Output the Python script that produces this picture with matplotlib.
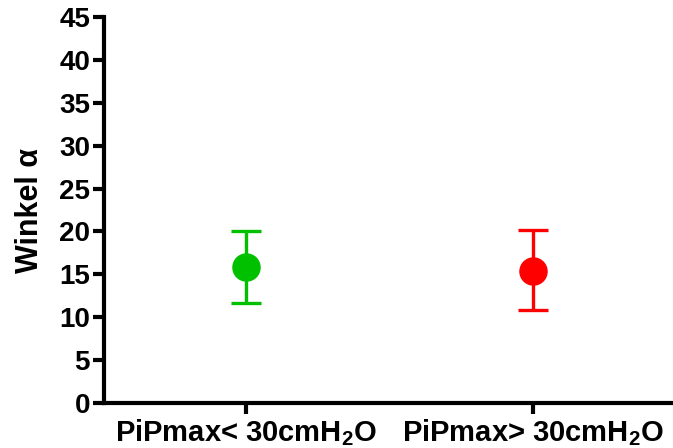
import matplotlib
matplotlib.use("Agg")
import matplotlib.pyplot as plt

plt.rcParams['font.family'] = ['Liberation Sans', 'DejaVu Sans']
plt.rcParams['font.weight'] = 'bold'
plt.rcParams['mathtext.fontset'] = 'custom'
plt.rcParams['mathtext.rm'] = 'Liberation Sans:bold'
plt.rcParams['mathtext.bf'] = 'Liberation Sans:bold'
plt.rcParams['mathtext.it'] = 'Liberation Sans:bold'
plt.rcParams['mathtext.default'] = 'bf'

categories = [r"PiPmax< 30cmH$_2$O", r"PiPmax> 30cmH$_2$O"]
means = [15.9, 15.4]
lower = [11.7, 10.8]
upper = [20.0, 20.2]
colors = ["#00c000", "#ff0000"]
yticks = [0, 5, 10, 15, 20, 25, 30, 35, 40, 45]

fig = plt.figure(figsize=(6.73, 4.48), dpi=100)
ax = fig.add_axes([0.1545, 0.1004, 0.851, 0.8616])

for i, (m, lo, hi, c) in enumerate(zip(means, lower, upper, colors)):
    ax.errorbar([i], [m], yerr=[[m - lo], [hi - m]], fmt='o', color=c,
                ecolor=c, mec=c, mfc=c, elinewidth=2.4, capsize=10.8,
                capthick=2.4, markersize=19.5, clip_on=False, zorder=3)

ax.set_xlim(-0.495, 1.5)
ax.set_ylim(0, 45)
ax.set_xticks(range(len(categories)))
ax.set_xticklabels(categories, fontsize=21)
ax.set_yticks(yticks)
ax.set_ylabel("Winkel α", fontsize=22, fontweight='bold', labelpad=10)

for s in ['top', 'right']:
    ax.spines[s].set_visible(False)
for s in ['left', 'bottom']:
    ax.spines[s].set_linewidth(3)
ax.tick_params(axis='both', width=3, length=8, pad=2)
ax.tick_params(axis='y', labelsize=20)
for lab in ax.get_xticklabels() + ax.get_yticklabels():
    lab.set_fontweight('bold')

fig.savefig("out.png", dpi=100)
